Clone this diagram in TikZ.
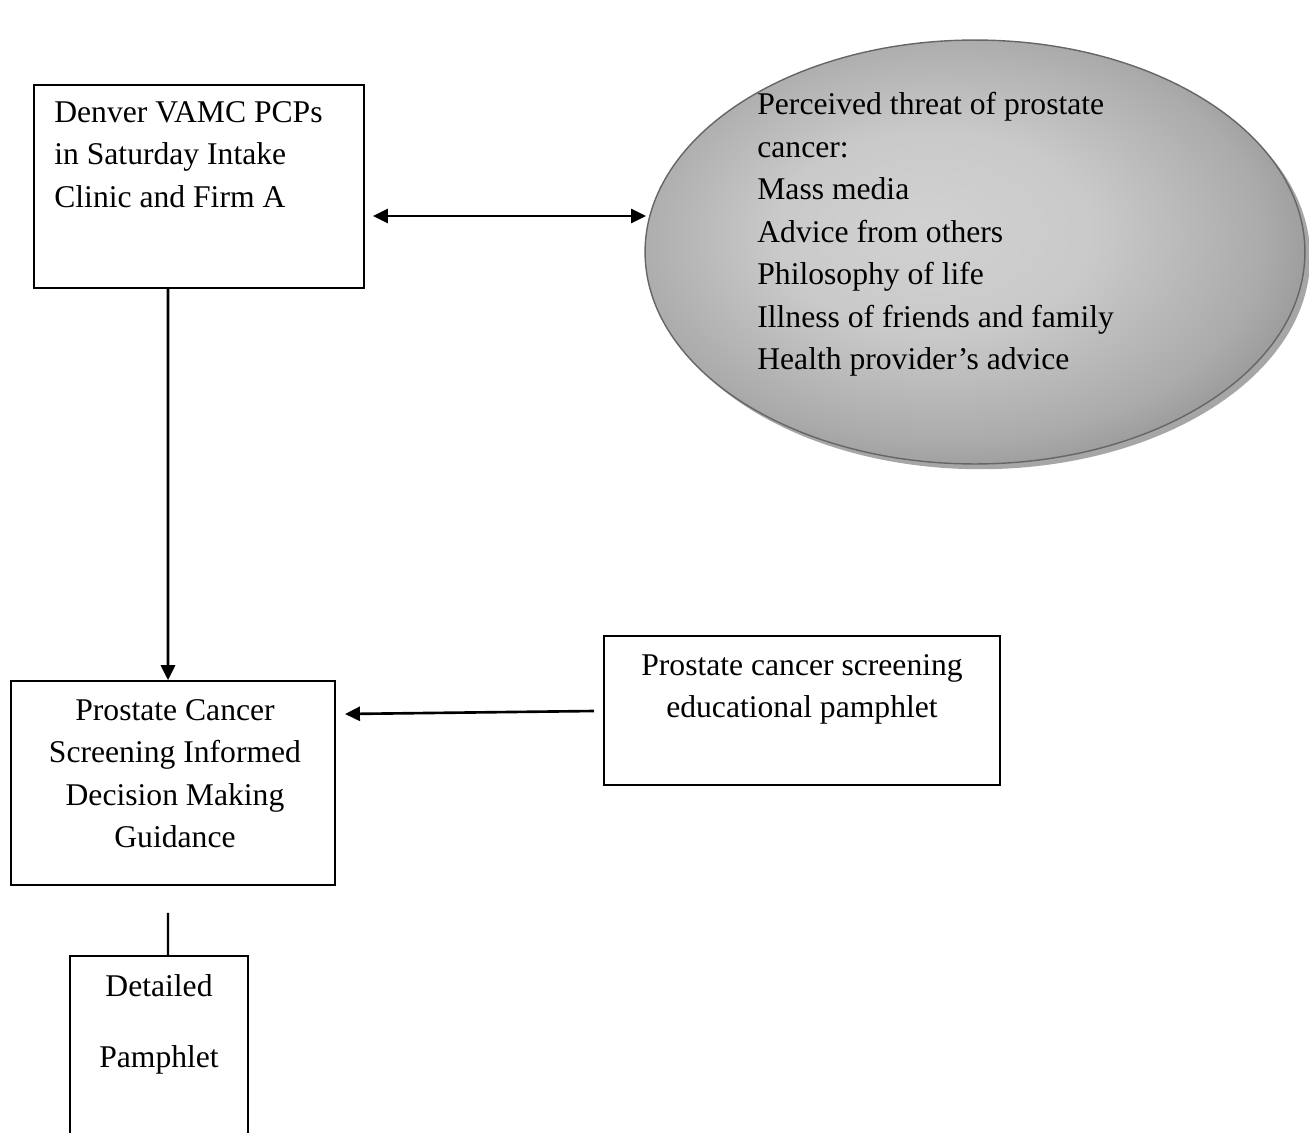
\documentclass[tikz,border=0pt]{standalone}
\usepackage{fontspec}
\setmainfont{Liberation Serif}
\usetikzlibrary{shapes.geometric, arrows.meta, positioning, calc, shadows}
\pgfdeclareradialshading{threatshade}{\pgfpoint{-4bp}{3bp}}{color(0bp)=(black!18); color(12bp)=(black!21); color(24bp)=(black!33); color(34bp)=(black!50); color(50bp)=(black!55)}

\begin{document}
\begin{tikzpicture}[x=0.02cm, y=-0.02cm,
  box/.style={draw, line width=1pt, inner sep=0pt},
  txt/.style={inner sep=0pt, font=\fontsize{18}{24.2}\selectfont},
  arrow/.style={-{Triangle[length=8.5pt, width=8pt]}, line width=1.5pt},
  twoway/.style={{Triangle[length=8.5pt, width=8pt]}-{Triangle[length=8.5pt, width=8pt]}, line width=1.5pt}
]
  \useasboundingbox (0,0) rectangle (1309,1133);
  \clip (0,0) rectangle (1309,1133);

  % Primary care providers
  \node[box, minimum width=6.6cm, minimum height=4.06cm] (pcp) at (199,186.5) {};
  \node[txt, anchor=north west, align=left] (pcptxt) at (54,101) {Denver VAMC PCPs\\in Saturday Intake\\Clinic and Firm A};

  % Perceived threat
  \node[ellipse, draw=black!60, line width=0.8pt, minimum width=13.2cm, minimum height=8.48cm,
    shading=threatshade,
    drop shadow={shadow xshift=3pt, shadow yshift=-3pt, fill=black!35, opacity=1}] (threat) at (975,252) {};
  \node[txt, anchor=north west, align=left] (threattxt) at (757,92) {Perceived threat of prostate\\cancer:\\Mass media\\Advice from others\\Philosophy of life\\Illness of friends and family\\Health provider's advice};

  % Guidance
  \node[box, minimum width=6.48cm, minimum height=4.08cm] (guide) at (173,783) {};
  \node[txt, anchor=north, align=center] (guidetxt) at (175,699) {Prostate Cancer\\Screening Informed\\Decision Making\\Guidance};

  % Short pamphlet
  \node[box, minimum width=7.92cm, minimum height=2.98cm] (short) at (802,710.5) {};
  \node[txt, anchor=north, align=center] (shorttxt) at (802,654) {Prostate cancer screening\\educational pamphlet};

  % Detailed pamphlet
  \node[box, minimum width=3.56cm, minimum height=4.08cm] (detail) at (159,1058) {};
  \node[txt, anchor=north, align=center, font=\fontsize{18}{40.5}\selectfont] (detailtxt) at (159,974) {Detailed\\Pamphlet};

  % Connectors
  \coordinate (pcpR) at (373,216);
  \coordinate (threatL) at (646,216);
  \draw[twoway] (pcpR) -- (threatL);
  \draw[arrow] ([xshift=-0.62cm]pcp.south) -- ([xshift=-0.1cm]guide.north);
  \coordinate (shortL) at (594,711);
  \coordinate (guideR) at (345,714);
  \draw[arrow] (shortL) -- (guideR);
  \draw[line width=1.2pt] ([xshift=-0.1cm, yshift=-0.54cm]guide.south) -- ([xshift=0.18cm]detail.north);
\end{tikzpicture}
\end{document}
